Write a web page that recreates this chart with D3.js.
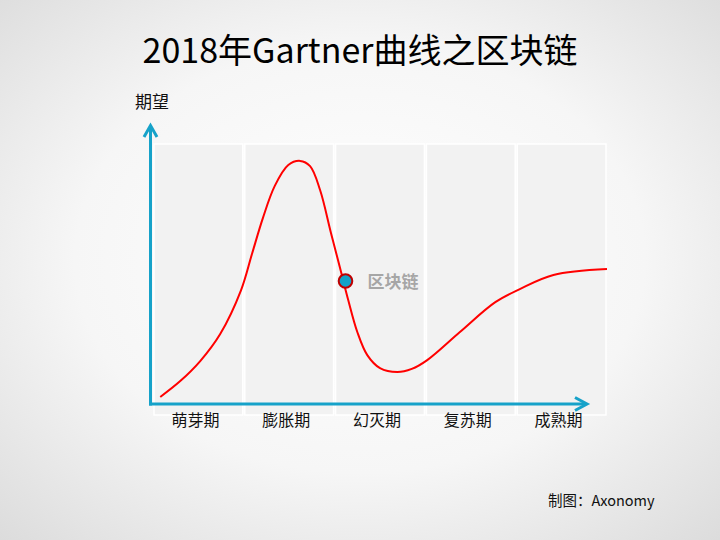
<!DOCTYPE html>
<html><head><meta charset="utf-8">
<script src="https://cdn.jsdelivr.net/npm/d3@7"></script>
<style>
html,body{margin:0;padding:0;}
svg{display:block;}
text{font-family:"Noto Sans CJK SC","Noto Sans",sans-serif;}
</style></head>
<body>
<svg id="chart" width="720" height="540"></svg>
<script>
const title = "2018年Gartner曲线之区块链";
const yAxisLabel = "期望";
const stages = ["萌芽期","膨胀期","幻灭期","复苏期","成熟期"];
// curve: x in stage units (0..5), y = expectation (0..100)
const curveX = [0.08,0.30,0.52,0.74,0.97,1.09,1.21,1.34,1.49,1.62,1.73,1.84,1.96,2.06,2.15,2.25,2.36,2.50,2.69,2.85,3.02,3.38,3.77,4.04,4.41,5.00];
const curveY = [2.7,8.8,16.5,26.9,43.8,57.7,71.5,83.8,91.9,93.5,91.5,82.3,65.8,52.3,40.0,27.7,18.8,13.8,12.3,13.5,16.9,27.7,39.2,44.2,49.6,51.9];
const markerName = "区块链";
const markerX = [2.12];
const markerY = [47.3];
const credit = "制图：Axonomy";

const svg = d3.select("#chart");
const W = 720, H = 540;

// background gradient
const defs = svg.append("defs");
const rg = defs.append("radialGradient").attr("id","bg").attr("cx","50%").attr("cy","48%").attr("r","72%");
rg.append("stop").attr("offset","0%").attr("stop-color","#ffffff");
rg.append("stop").attr("offset","55%").attr("stop-color","#f6f6f6");
rg.append("stop").attr("offset","100%").attr("stop-color","#dcdcdc");
svg.append("rect").attr("width",W).attr("height",H).attr("fill","url(#bg)");

const x = d3.scaleLinear().domain([0,5]).range([153,607]);
const y = d3.scaleLinear().domain([0,100]).range([404,144]);
const band = d3.scaleBand().domain(stages).range([153,607]).padding(0);

// stage panels
svg.append("g").selectAll("rect").data(stages).join("rect")
  .attr("x", d => band(d)+1)
  .attr("y", 144)
  .attr("width", band.bandwidth()-2)
  .attr("height", 415-144)
  .attr("fill","#f2f2f2")
  .attr("stroke","#ffffff")
  .attr("stroke-width",1.5);

// stage labels
svg.append("g").selectAll("text").data(stages).join("text")
  .attr("x", d => band(d)+band.bandwidth()/2 - 3)
  .attr("y", 425.5)
  .attr("text-anchor","middle")
  .attr("font-size",16)
  .attr("fill","#111")
  .text(d => d);

// axes
const axisColor = "#16a2c9";
const x0 = 150.5, y0 = 404;
const g = svg.append("g").attr("fill","none").attr("stroke",axisColor).attr("stroke-width",3).attr("stroke-linecap","butt");
g.append("path").attr("d", `M${x0},${y0+1.5} L${x0},126`);
g.append("path").attr("d", `M${x0-1.5},${y0} L${586},${y0}`);
g.append("path").attr("d", `M${x0-6.5},137 L${x0},125.5 L${x0+6.5},137`).attr("stroke-linejoin","miter");
g.append("path").attr("d", `M${575},${y0-6.5} L${587},${y0} L${575},${y0+6.5}`).attr("stroke-linejoin","miter");

// curve
const line = d3.line().x(d => x(d[0])).y(d => y(d[1])).curve(d3.curveCatmullRom.alpha(0.5));
svg.append("path").datum(d3.zip(curveX, curveY))
  .attr("d", line).attr("fill","none").attr("stroke","#ff0000").attr("stroke-width",2);

// marker
svg.append("g").selectAll("circle").data(d3.zip(markerX, markerY)).join("circle")
  .attr("cx", d => x(d[0])).attr("cy", d => y(d[1])).attr("r",6.8)
  .attr("fill","#12a3c9").attr("stroke","#c00000").attr("stroke-width",2);
svg.append("text").attr("x", x(markerX[0])+22).attr("y", y(markerY[0])+7)
  .attr("font-size",17).attr("font-weight","bold").attr("fill","#a6a6a6").text(markerName);

// title
svg.append("text").attr("x",360).attr("y",63).attr("text-anchor","middle")
  .attr("font-size",34).attr("fill","#000").text(title);
// y label
svg.append("text").attr("x",135).attr("y",108).attr("font-size",17).attr("fill","#111").text(yAxisLabel);
// credit
svg.append("text").attr("x",548).attr("y",505.5).attr("font-size",14.5).attr("fill","#111").text(credit);
</script>
</body></html>
